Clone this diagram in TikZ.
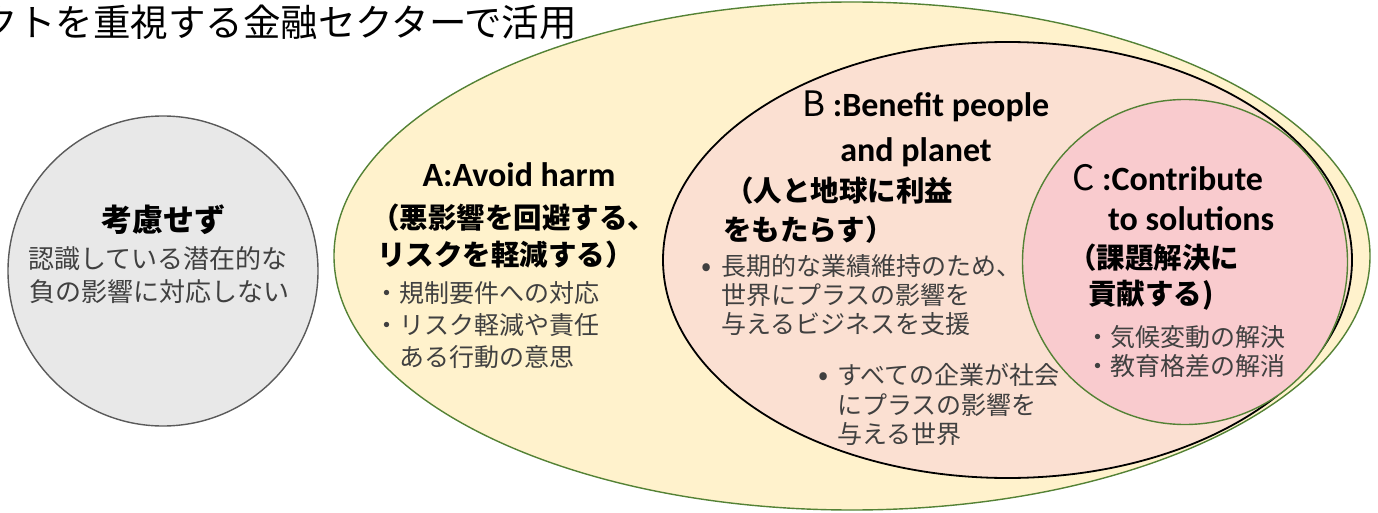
\documentclass[tikz,border=0pt]{standalone}
\usepackage{fontspec}
\setmainfont{Noto Sans CJK JP}
\newfontfamily\latinf{Carlito}
\usetikzlibrary{shapes.geometric}
\definecolor{ayellow}{HTML}{FFF2CC}
\definecolor{agreen}{HTML}{548235}
\definecolor{bpeach}{HTML}{FBE0D2}
\definecolor{cpink}{HTML}{F9CBCE}
\definecolor{ggray}{HTML}{E8E8E8}
\definecolor{gline}{HTML}{5A5A5A}
\definecolor{bodygray}{HTML}{404040}
\tikzset{
  zone/.style={ellipse, inner sep=0pt, outer sep=0pt},
  jpb/.style={font=\fontsize{28.5}{34}\selectfont\bfseries, inner sep=0pt, anchor=base west},
  bodytxt/.style={font=\fontsize{25}{30}\selectfont, text=bodygray, inner sep=0pt, anchor=base west},
  lat/.style={font=\latinf\bfseries\fontsize{34}{40}\selectfont, inner sep=0pt},
  bul/.style={font=\fontsize{30}{34}\selectfont, text=bodygray, inner sep=0pt, anchor=base},
}
\begin{document}
\begin{tikzpicture}[x=1pt,y=-1pt]
\useasboundingbox (0,0) rectangle (1378,513);
% title (cut at left edge)
\node[anchor=base east, inner sep=0pt, font=\fontsize{37.5}{42}\selectfont] (title) at (577,37) {クトを重視する金融セクターで活用};
% grey circle
\node[circle, minimum size=310pt, inner sep=0pt, fill=ggray, draw=gline, line width=1.4pt] (G) at (163,271) {};
\node[anchor=base, inner sep=0pt, font=\fontsize{31}{36}\selectfont\bfseries] (gt) at (163,231) {考慮せず};
\node[anchor=base, inner sep=0pt, font=\fontsize{26}{30}\selectfont, text=bodygray] (g1) at (158,268.5) {認識している潜在的な};
\node[anchor=base, inner sep=0pt, font=\fontsize{26}{30}\selectfont, text=bodygray] (g2) at (159,301) {負の影響に対応しない};
% A
\node[zone, minimum width=1036pt, minimum height=508pt, fill=ayellow, draw=agreen, line width=1.4pt] (A) at (852,256) {};
% B
\node[zone, minimum width=689pt, minimum height=436pt, fill=bpeach, draw=black, line width=1.8pt] (B) at (1007.5,260) {};
% C
\node[circle, minimum size=325pt, inner sep=0pt, fill=cpink, draw=agreen, line width=1.4pt] (C) at (1185,262) {};
% A texts
\node[lat, anchor=base] (at) at (519,187) {A:Avoid harm};
\node[jpb] (aj1) at (371,228.5) {（悪影響を回避する、};
\node[jpb] (aj2) at (377,265.5) {リスクを軽減する）};
\node[bodytxt] (ab1) at (374,302) {・規制要件への対応};
\node[bodytxt] (ab2) at (374,334) {・リスク軽減や責任};
\node[bodytxt] (ab3) at (399,366) {ある行動の意思};
% B texts
\node[lat, anchor=base west] (bt1) at (802,117) {{\rmfamily\mdseries\fontsize{35}{40}\selectfont B} :Benefit people};
\node[lat, anchor=base] (bt2) at (916,162) {and planet};
\node[jpb] (bj1) at (725,202) {（人と地球に利益};
\node[jpb] (bj2) at (723,240.5) {をもたらす）};
\node[bodytxt] (bb1) at (721,275) {長期的な業績維持のため、};
\node[bodytxt] (bb2) at (721,304) {世界にプラスの影響を};
\node[bodytxt] (bb3) at (721,333) {与えるビジネスを支援};
\node[bul] (bbul1) at (707,276) {•};
\node[bodytxt] (bb4) at (837,384) {すべての企業が社会};
\node[bodytxt] (bb5) at (837,414) {にプラスの影響を};
\node[bodytxt] (bb6) at (837,443) {与える世界};
\node[bul] (bbul2) at (824,385) {•};
% C texts
\node[lat, anchor=base west] (ct1) at (1072,190) {{\rmfamily\mdseries\fontsize{35}{40}\selectfont C} :Contribute};
\node[lat, anchor=base west] (ct2) at (1108,230) {to solutions};
\node[jpb] (cj1) at (1068,268.5) {（課題解決に};
\node[jpb] (cj2) at (1088,304.5) {貢献する)};
\node[bodytxt] (cb1) at (1085,346) {・気候変動の解決};
\node[bodytxt] (cb2) at (1085,375) {・教育格差の解消};
\end{tikzpicture}
\end{document}
